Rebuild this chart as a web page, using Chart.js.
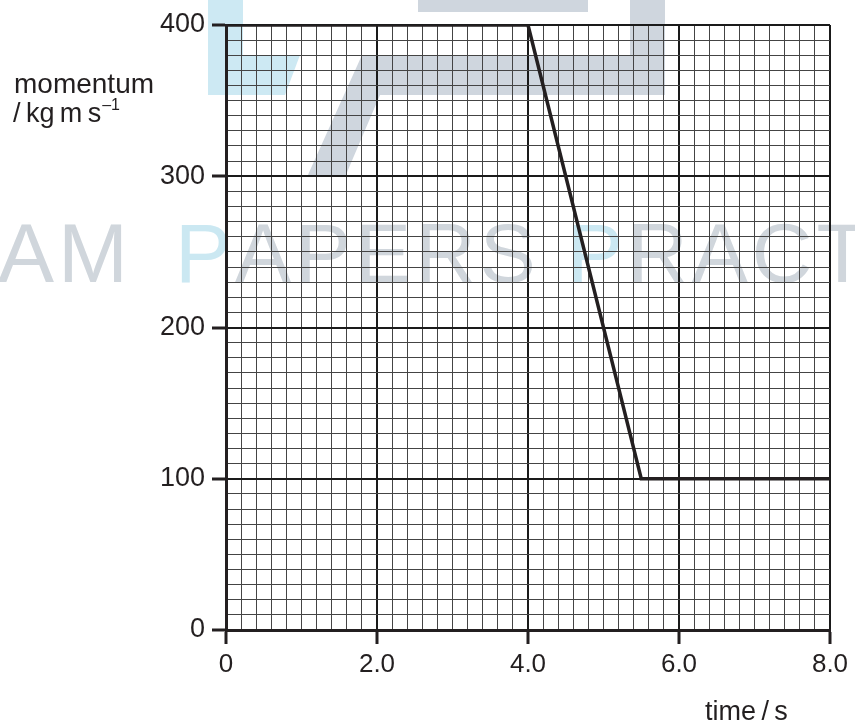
<!DOCTYPE html>
<html>
<head>
<meta charset="utf-8">
<script src="https://cdn.jsdelivr.net/npm/chart.js@4.4.1/dist/chart.umd.min.js"></script>
<style>
  html, body { margin: 0; padding: 0; background: #fff; }
  #wrap { width: 855px; height: 724px; position: relative; }
</style>
</head>
<body>
<div id="wrap"><canvas id="chart"></canvas></div>
<script>
// Datos
var times = [0, 4.0, 5.5, 8.0];          // s
var momentum = [400, 400, 100, 100];     // kg m s^-1
var xTicks = [0, 2.0, 4.0, 6.0, 8.0];
var yTicks = [0, 100, 200, 300, 400];

var INK = '#231f20';
var FONT = '"Liberation Sans", Arial, sans-serif';

function isMajor(v, step) {
  return Math.abs(v / step - Math.round(v / step)) < 1e-6;
}

// Marca de agua de fondo (logo + texto)
function drawWord(ctx, word, x, sp, blueFirst) {
  for (var j = 0; j < word.length; j++) {
    ctx.fillStyle = (blueFirst && j === 0) ? '#cbe8f2' : '#d0d6dc';
    ctx.fillText(word[j], x, 282);
    x += ctx.measureText(word[j]).width + sp;
  }
}

var watermark = {
  id: 'watermark',
  beforeDraw: function(chart) {
    var ctx = chart.ctx;
    ctx.save();
    ctx.fillStyle = '#fff';
    ctx.fillRect(0, 0, chart.width, chart.height);
    // logo
    ctx.fillStyle = '#cde9f3';
    ctx.beginPath();
    ctx.moveTo(208, 0); ctx.lineTo(243, 0); ctx.lineTo(243, 55);
    ctx.lineTo(300, 55); ctx.lineTo(285, 95); ctx.lineTo(208, 95);
    ctx.closePath(); ctx.fill();
    ctx.fillStyle = '#cfd6de';
    ctx.fillRect(418, 0, 170, 12);
    ctx.beginPath();
    ctx.moveTo(362, 55); ctx.lineTo(630, 55); ctx.lineTo(630, 0);
    ctx.lineTo(665, 0); ctx.lineTo(665, 95); ctx.lineTo(380, 95);
    ctx.lineTo(345, 177); ctx.lineTo(307, 177);
    ctx.closePath(); ctx.fill();
    // texto
    ctx.font = '84px ' + FONT;
    ctx.textBaseline = 'alphabetic';
    var sp = 4;
    var w1 = 0;
    for (var i = 0; i < 4; i++) w1 += ctx.measureText('EXAM'[i]).width + sp;
    drawWord(ctx, 'EXAM', 132 - w1, sp, false);
    drawWord(ctx, 'PAPERS', 175, sp, true);
    drawWord(ctx, 'PRACTICE', 567, sp, true);
    ctx.restore();
  },
  afterDraw: function(chart) {
    var ctx = chart.ctx;
    ctx.save();
    ctx.fillStyle = INK;
    ctx.textBaseline = 'alphabetic';
    ctx.font = '28px ' + FONT;
    ctx.fillText('momentum', 14, 93);
    ctx.font = '27px ' + FONT;
    var l2 = '/\u2009kg\u2009m\u2009s';
    ctx.fillText(l2, 13, 122);
    var w = ctx.measureText(l2).width;
    ctx.font = '16px ' + FONT;
    ctx.fillText('\u20131', 13 + w + 1, 110);
    ctx.font = '27px ' + FONT;
    ctx.fillText('time\u2009/\u2009s', 705, 720);
    ctx.restore();
  }
};

var pts = times.map(function(t, i) { return {x: t, y: momentum[i]}; });

new Chart(document.getElementById('chart'), {
  type: 'line',
  data: { datasets: [{
    data: pts,
    borderColor: INK,
    borderWidth: 3.5,
    pointRadius: 0,
    tension: 0,
    fill: false
  }]},
  options: {
    responsive: true,
    maintainAspectRatio: false,
    animation: false,
    layout: { padding: { top: 25, right: 25, bottom: 0, left: 0 } },
    plugins: { legend: { display: false }, tooltip: { enabled: false } },
    scales: {
      x: {
        type: 'linear', min: 0, max: 8,
        afterFit: function(s) { s.height = 94; },
        border: { color: INK, width: 3 },
        grid: {
          color: function(c) { return isMajor(c.tick.value, 2) ? '#1a1a1a' : '#444'; },
          lineWidth: function(c) { return isMajor(c.tick.value, 2) ? 2 : 1; },
          tickColor: function(c) { return isMajor(c.tick.value, 2) ? INK : 'rgba(0,0,0,0)'; },
          tickWidth: 3,
          tickLength: 14
        },
        ticks: {
          stepSize: 0.2, autoSkip: false, maxRotation: 0, padding: 5,
          color: INK, font: { family: FONT, size: 26 },
          callback: function(v) {
            if (!isMajor(v, 2)) return '';
            var m = xTicks.find(function(t) { return Math.abs(t - v) < 1e-6; });
            return m === 0 ? '0' : m.toFixed(1);
          }
        }
      },
      y: {
        type: 'linear', min: 0, max: 400,
        afterFit: function(s) { s.width = 226; },
        border: { color: INK, width: 3 },
        grid: {
          color: function(c) { return isMajor(c.tick.value, 100) ? '#1a1a1a' : '#444'; },
          lineWidth: function(c) { return isMajor(c.tick.value, 100) ? 2 : 1; },
          tickColor: function(c) { return isMajor(c.tick.value, 100) ? INK : 'rgba(0,0,0,0)'; },
          tickWidth: 3,
          tickLength: 14
        },
        ticks: {
          stepSize: 10, autoSkip: false, padding: 7,
          color: INK, font: { family: FONT, size: 27 },
          callback: function(v) {
            return yTicks.indexOf(v) >= 0 ? String(v) : '';
          }
        }
      }
    }
  },
  plugins: [watermark]
});
</script>
</body>
</html>
